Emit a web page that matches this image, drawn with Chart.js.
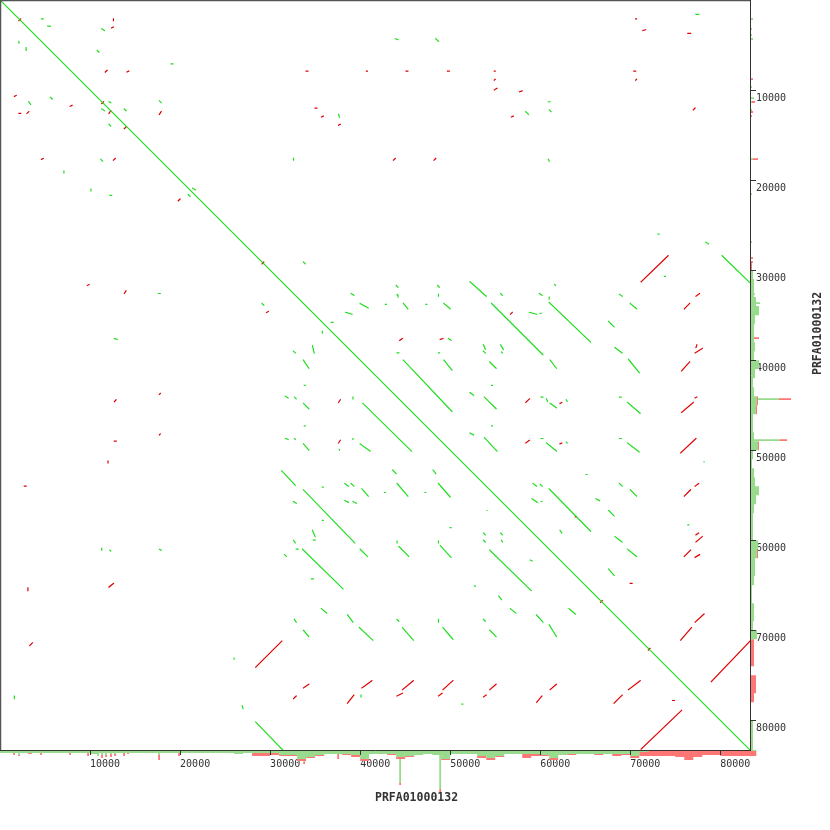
<!DOCTYPE html>
<html>
<head>
<meta charset="utf-8">
<script src="https://cdn.jsdelivr.net/npm/chart.js@4.4.1/dist/chart.umd.min.js"></script>
<style>
html,body{margin:0;padding:0;background:#fff;}
#wrap{width:830px;height:830px;}
</style>
</head>
<body>
<div id="wrap"><canvas id="c" width="830" height="830"></canvas></div>
<script>
// ---------- data ----------
const seqName = 'PRFA01000132';
const seqLength = 83300;
const tickValues = [10000, 20000, 30000, 40000, 50000, 60000, 70000, 80000];

// forward (same-strand) hits: [x1, y1, x2, y2] in bp
const forwardHits = [
[0,0,83300,83300],
[80200,28400,83300,31400],[28400,80200,31400,83300],
[52200,31300,54000,32900],[54600,33700,60300,39400],[61000,33600,65600,38000],
[44800,40000,50200,45700],[40300,44800,45700,50100],
[31300,52300,32800,53900],[33700,54400,39400,60300],[33600,61000,38100,65400],
[54400,61100,59000,65600],[61000,54300,65600,59000],
[68800,32700,69100,32900],[70000,33700,70700,34300],[67600,35700,68200,36300],
[68300,38600,69100,39200],[69800,39900,71000,41400],[68800,44100,69000,44100],
[69700,44700,71100,45900],[68800,48700,69000,48700],[69700,49200,71000,50200],
[78200,51300,78300,51300],[65100,52700,65200,52700],[68800,53700,69100,54000],
[70000,54400,70700,55100],[66200,55400,66600,55600],[67600,56700,68200,57300],
[76400,58300,76500,58300],[68300,59600,69100,60200],[69700,61000,70700,61800],
[67600,63200,68200,63900],[63200,67600,63900,68200],[73800,30700,73900,30700],
[73100,26000,73200,26000],[78400,26900,78700,27100],[77300,1600,77600,1600],
[43900,4300,44200,4400],[48400,4300,48700,4600],[60900,11300,61100,11300],
[61000,12200,61200,12400],[58400,12400,58700,12700],[37600,12700,37700,13000],
[32600,17600,32600,17800],[60900,17700,61000,17900],
[4600,2100,4800,2100],[5300,2900,5600,2900],[2100,4600,2100,4800],[2900,5300,2900,5600],
[11300,3200,11600,3400],[10800,5600,11000,5800],[19000,7100,19200,7100],
[3200,11300,3400,11600],[5600,10800,5800,11000],[12100,11300,12300,11400],
[11300,12100,11600,12300],[13800,12100,14000,12300],[17700,11200,17900,11400],
[12100,13800,12300,14000],[11200,17700,11400,17900],[7100,19000,7100,19200],
[10100,21000,10100,21200],[12200,21700,12400,21700],[21400,20900,21700,21100],
[20900,21600,21100,21800],[17600,32600,17800,32600],[12700,37600,13000,37700],
[11300,60900,11300,61100],[12200,61100,12300,61200],[17700,61000,17900,61100],
[26000,73100,26000,73200],[1600,77300,1600,77600],[26900,78400,27000,78700],
[33700,29100,33900,29300],[44000,31700,44200,31900],[48600,31700,48800,31900],
[61600,31600,61700,31700],[39000,32600,39300,32800],[44100,32700,44200,32900],
[48700,32700,48700,32900],[55600,32600,55800,32800],[59900,32600,60200,32800],
[61000,33000,61000,33200],[29100,33700,29300,33900],[40000,33700,40900,34200],
[42800,33800,42900,33800],[44800,33700,45300,34300],[47300,33800,47400,33800],
[49300,33700,50000,34300],[58800,34700,59600,34900],[60000,34800,60100,34800],
[38400,34700,39100,34900],[36800,35800,37000,35800],[35800,36800,35800,37000],
[49800,37600,50100,37800],[32600,39000,32800,39200],[34700,38400,34900,39200],
[44100,39200,44300,39200],[48700,39200,48800,39200],[53700,38300,53900,38800],
[53700,39000,53900,39200],[55600,38300,55900,38800],[55700,39100,55800,39200],
[33700,40000,34300,40900],[49300,40000,50200,41100],[54400,40200,55100,40900],
[61100,40000,61800,40900],[33800,42800,33900,42800],[54600,42800,54700,42800],
[31700,44000,32000,44200],[32700,44100,32900,44300],[33700,44800,34300,45400],
[39200,44100,39200,44300],[52200,43600,52600,43900],[53800,44100,55100,45400],
[60100,44100,60300,44100],[60700,44300,60800,44600],[61100,44800,61800,45300],
[62900,44400,63000,44600],[33800,47300,33900,47300],[54600,47300,54700,47300],
[31700,48700,32000,48800],[32700,48700,32800,48800],[37700,49900,37700,50000],
[33700,49300,34300,50000],[39200,48700,39200,48800],[40000,49300,41100,50100],
[52200,48100,52600,48300],[53800,48600,55200,50100],[60100,48700,60300,48700],
[60700,49200,61800,50100],[62900,49100,63000,49200],[43600,52200,44000,52600],
[48100,52200,48400,52600],[38300,53700,38700,54000],[39000,53700,39300,54000],
[40200,54300,40900,55100],[35800,54100,35900,54100],[42700,54700,42800,54700],
[44100,53700,45300,55100],[47200,54700,47300,54700],[48700,53700,50000,55200],
[59200,53700,59600,54000],[60000,53800,60200,54000],[38300,55600,38700,55800],
[39200,55700,39600,55900],[32600,55700,32900,55900],[54100,56700,54200,56700],
[59100,55400,59700,55800],[60100,55700,60200,55700],[35800,57800,35900,57800],
[50000,58600,50100,58600],[34700,58900,35000,59600],[62200,58900,62400,59200],
[53700,59200,53900,59400],[55600,59200,55800,59400],[32600,60000,32800,60300],
[34800,60000,35000,60000],[44100,60100,44100,60300],[44300,60700,45400,61800],
[48700,60100,48700,60300],[48900,60600,50100,61900],[53700,60000,53900,60200],
[55700,60000,55800,60200],[32900,61000,33100,61000],[31600,61600,31800,61800],
[40000,61000,40800,61800],[58900,62200,59100,62300],[34600,64300,34800,64300],
[52700,65100,52800,65100],[55400,66200,55700,66600],[35700,67600,36300,68100],
[56700,67600,57300,68100],[32700,68800,32900,69100],[38600,68300,39200,69100],
[44100,68800,44300,69000],[48700,68800,48700,69100],[53700,68800,53900,69000],
[59600,68300,60300,69100],[33700,70000,34300,70700],[39900,69700,41400,71100],
[44700,69700,45900,71100],[49200,69700,50300,71000],[54400,70000,55100,70700],
[61000,69400,61800,70700],[40100,77200,40100,77400],[51300,78200,51400,78200]
];

// reverse-complement hits: [x1, y1, x2, y2] in bp
const reverseHits = [
[71200,31300,74200,28400],[28400,74100,31300,71200],
[71200,83200,75700,78900],[79000,75700,83300,71200],
[77300,32900,77700,32600],[76000,34300,76600,33700],[77300,38600,77400,38300],
[77200,39200,78000,38700],[75700,41200,76600,40200],[75700,45800,77000,44700],
[77200,44200,77400,44100],[75600,50300,77300,48700],[77200,54000,77600,53700],
[76000,55100,76700,54400],[77300,59400,77600,59200],[77300,60200,78000,59600],
[76000,61800,76700,61100],[77200,61900,77700,61600],[70000,64800,70200,64800],
[77200,69100,78200,68200],[75600,71100,76800,69700],[69800,76600,71100,75600],
[68200,78100,69100,77200],[74700,77800,74900,77800],
[32600,77600,32900,77300],[33700,76400,34300,76000],[38600,78100,39300,77200],
[40200,76400,41300,75600],[44100,77300,44700,77000],[44700,76600,45900,75600],
[48700,77300,49100,77000],[49200,76600,50300,75600],[53700,77400,54000,77200],
[54400,76600,55100,76000],[59600,78000,60200,77300],[61100,76600,61800,76000],
[29600,34700,29800,34600],[56700,34900,56900,34700],[44400,37800,44700,37600],
[48900,37700,49200,37600],[37600,44700,37800,44400],[58400,44700,58800,44300],
[62200,44800,62400,44700],[37600,49200,37800,48900],[58400,49200,58800,48900],
[62200,49300,62400,49200],[63900,57400,64000,57400],
[70600,2100,70700,2100],[71400,3400,71700,3300],[76400,3700,76700,3700],
[34000,7900,34200,7900],[40700,7900,40800,7900],[45100,7900,45300,7900],
[49700,7900,49900,7900],[54900,7900,55000,7900],[54900,8900,55000,8800],
[54900,10000,55200,9800],[57700,10200,58000,10100],[70400,7900,70600,7900],
[70600,8900,70700,8800],[56800,13000,57000,12900],[77000,12200,77200,12000],
[35000,12000,35200,12000],[35700,13000,35900,12900],[37600,13900,37800,13800],
[43700,17800,43900,17600],[48200,17800,48400,17600],
[12600,2300,12600,2100],[12400,3100,12600,3000],[11700,8000,11900,7800],
[14100,8000,14300,7900],[1600,10700,1800,10600],[7800,11800,8000,11700],
[2100,12600,2300,12600],[3000,12600,3200,12400],[12100,12600,12300,12300],
[17700,12700,17900,12400],[13800,14300,14000,14100],[4600,17700,4800,17600],
[12600,17800,12800,17600],[19800,22300,20000,22100],
[2100,2300,2300,2100],[11300,11500,11500,11300],[29100,29300,29300,29100],
[66700,66900,66900,66700],[72000,72200,72200,72000],
[9700,31700,9900,31600],[13800,32600,14000,32300],[17700,43800,17800,43700],
[12700,44600,12900,44400],[17700,48300,17800,48200],[12700,49000,12900,49000],
[12000,51400,12000,51200],[2700,54000,2900,54000],[12100,65200,12600,64800],
[3100,65600,3100,65300],[3300,71700,3600,71400]
];

// coverage histograms, 1000-bp bins (hit depth)
const binSize = 1000;
const bottomFwd = [1.5,1.5,1.5,1.5,1.5,1.5,1.5,1.5,1.5,1.5,2,1.5,1.5,1.5,1.5,1.5,1.5,1.5,1.5,1.5,1.5,1.5,1.5,1.5,1.5,1.5,2,1.5,1.5,1.5,1.5,2.5,2.5,4.5,3.5,2.5,2,2,2,2.5,4.5,2,2,2,3.5,3,2.5,2,2.5,4.5,2,2,2,3,4,3,2,2,2,2,2.5,4,2.5,2,2,2,2,2,2,2,3,1,0.5,0.5,0.5,0.5,0.5,0.5,0.5,0.5,0.5,0.5,0.5,0.5];
const bottomRev = [0,0,0,0,0,0,0,0,0,0,0,0,0,0,0,0,0,0,0,0,0,0,0,0,0,0,0,0,1.5,1.5,1,0.5,0.5,1,0.5,0.5,0,0,0.5,1,1,0,0,0.5,1,0.5,0,0,0,0.5,0,0,0,1,1,0.5,0,0,2,1,0.5,1,0,0.5,0,0,0.5,0,1,0.5,1,2,2.5,2.5,2.5,3,4.5,3,2,2,2.5,2.5,2.5,2.5];
const rightFwd = [0,0,0,0,0,0,0,0,0,0,0,0,0,0,0,0,0,0,0,0,0,0,0,0,0,0,0,0,0.5,0.5,1.5,2,2,3,4.5,2.5,2,2,2.5,2,4.5,2.5,1.5,2,3.5,3,1.5,1.5,2,4,1.5,1,2,2.5,4.5,3,2,1.5,1.5,1.5,4,3.5,2.5,2.5,2,1,1,2,2,1.5,3.5,0,0,0,0,0,0,0,0.5,0,1.5,1.5,1.5,1.5];
const rightRev = [0,0,0,0,0,0,0,0,0,0,0,0,0,0,0,0,0,0,0,0,0,0,0,0,0,0,0,0,0,0.5,0,0,0,0,0,0,0,0,0,0,0,0,0,0,0.5,0.5,0,0,0,0.5,0,0,0,0,0,0,0,0,0,0,0,0.5,0,0,0,0,0,0,0,0,0,2,2,2,0.5,3,3,2,0,0,0,0,0,0];
// narrow coverage peaks: [position bp, forward depth, reverse depth]
const peakWidth = 200;
const bottomPeaks = [[1560,1.5,1],[2110,2.5,0.5],[3220,1.5,0.5],[3440,1.5,0.5],[4560,1.5,1],[7780,1.5,1],[9780,1.5,1.5],[10890,3,0],[11330,2.5,1.5],[11780,2.5,1],[12330,2,1.5],[12780,2,1],[13780,1.5,1.5],[14220,1.5,0.5],[17670,2.5,2.5],[19890,1.5,1.5],[33780,6,1],[37560,1.5,3],[44440,16.5,1],[48890,19.5,1.5]];
const rightPeaks = [[2110,1.5,0],[3220,1,0],[3890,1,0],[4330,1.5,0],[5560,0.5,0],[8780,0,1.5],[9670,1,0],[10890,2,0],[11330,1,1.5],[12220,1,0],[12440,0,1.5],[12890,0,1],[13780,0.5,0],[17670,1.5,2.5],[20780,0.5,0],[21560,1,0],[26890,1,0],[28670,0,1.5],[29110,0,1.5],[32670,2.5,0],[33670,5,0],[37560,1.5,3],[44330,14.5,6],[48890,15,3.5],[66330,1,0]];

// ---------- styling ----------
const HIT_GREEN = 'rgb(30,222,30)';
const HIT_RED = 'rgb(225,0,0)';
const COV_GREEN = 'rgb(152,219,140)';
const COV_RED = 'rgb(255,118,118)';
const AXIS = '#333333';

// ---------- build library tables ----------
const GAP = () => ({x: null, y: null});
function hitPoints(list) {
  const pts = [];
  list.forEach(h => { pts.push({x: h[0], y: h[1]}, {x: h[2], y: h[3]}, GAP()); });
  return pts;
}
function binBars(fwd, rev, horizontal, red) {
  const pts = [];
  fwd.forEach((f, i) => {
    const r = rev[i];
    const c = (i + 0.5) * binSize;
    const s = red ? f : 0, e = red ? f + r : f;
    if (e - s <= 0) return;
    if (horizontal) pts.push({x: s, y: c}, {x: e, y: c}, GAP());
    else pts.push({x: c, y: s}, {x: c, y: e}, GAP());
  });
  return pts;
}
function peakBars(peaks, horizontal, red) {
  const pts = [];
  peaks.forEach(p => {
    const s = red ? p[1] : 0, e = red ? p[1] + p[2] : p[1];
    if (e - s <= 0) return;
    if (horizontal) pts.push({x: s, y: p[0]}, {x: e, y: p[0]}, GAP());
    else pts.push({x: p[0], y: s}, {x: p[0], y: e}, GAP());
  });
  return pts;
}
function widthOn(axisId, span) {
  return (ctx) => {
    const s = ctx.chart.scales[axisId];
    if (!s) return 2;
    const w = Math.abs(s.getPixelForValue(span) - s.getPixelForValue(0));
    return isFinite(w) && w > 0 ? w : 2;
  };
}
function histSet(data, color, horizontal, span) {
  return {
    data, borderColor: color, backgroundColor: color,
    borderWidth: widthOn(horizontal ? 'y' : 'x', span),
    stepped: true,
    borderCapStyle: 'butt', borderJoinStyle: 'miter', pointRadius: 0, fill: false, spanGaps: false, clip: false,
    xAxisID: horizontal ? 'xHist' : 'x', yAxisID: horizontal ? 'y' : 'yHist'
  };
}

const datasets = [
  histSet(binBars(bottomFwd, bottomRev, false, false), COV_GREEN, false, binSize),
  histSet(binBars(bottomFwd, bottomRev, false, true), COV_RED, false, binSize),
  histSet(peakBars(bottomPeaks, false, false), COV_GREEN, false, peakWidth),
  histSet(peakBars(bottomPeaks, false, true), COV_RED, false, peakWidth),
  histSet(binBars(rightFwd, rightRev, true, false), COV_GREEN, true, binSize),
  histSet(binBars(rightFwd, rightRev, true, true), COV_RED, true, binSize),
  histSet(peakBars(rightPeaks, true, false), COV_GREEN, true, peakWidth),
  histSet(peakBars(rightPeaks, true, true), COV_RED, true, peakWidth),
  {data: hitPoints(forwardHits), borderColor: HIT_GREEN, borderWidth: 1.2, borderCapStyle: 'square',
   pointRadius: 0, fill: false, spanGaps: false, xAxisID: 'x', yAxisID: 'y'},
  {data: hitPoints(reverseHits), borderColor: HIT_RED, borderWidth: 1.2, borderCapStyle: 'square',
   pointRadius: 0, fill: false, spanGaps: false, xAxisID: 'x', yAxisID: 'y'}
];

const frameAndTitles = {
  id: 'frameAndTitles',
  afterDraw(chart) {
    const {ctx, chartArea: a} = chart;
    ctx.save();
    ctx.strokeStyle = '#555';
    ctx.lineWidth = 1.5;
    ctx.beginPath();
    ctx.moveTo(a.left + 0.5, a.bottom);
    ctx.lineTo(a.left + 0.5, a.top + 0.5);
    ctx.lineTo(a.right, a.top + 0.5);
    ctx.stroke();
    ctx.fillStyle = AXIS;
    ctx.font = 'bold 11.5px "DejaVu Sans Mono"';
    ctx.textAlign = 'left';
    ctx.textBaseline = 'alphabetic';
    const cx = (a.left + a.right) / 2, cy = (a.top + a.bottom) / 2;
    ctx.fillText(seqName, cx, a.bottom + 51);
    ctx.translate(a.right + 71, cy);
    ctx.rotate(-Math.PI / 2);
    ctx.fillText(seqName, 0, 0);
    ctx.restore();
  }
};

const tickFont = {family: 'DejaVu Sans Mono', size: 10};
const setTicks = (s) => { s.ticks = tickValues.map(v => ({value: v})); };

new Chart(document.getElementById('c'), {
  type: 'line',
  data: {datasets},
  plugins: [frameAndTitles],
  options: {
    responsive: false, animation: false, devicePixelRatio: 1, events: [],
    layout: {padding: 0},
    elements: {line: {tension: 0}},
    plugins: {legend: {display: false}, tooltip: {enabled: false}, title: {display: false}},
    scales: {
      x: {
        type: 'linear', position: 'bottom', min: 0, max: seqLength,
        afterBuildTicks: setTicks,
        afterFit: (s) => { s.height = 80; },
        grid: {drawOnChartArea: false, drawTicks: true, tickLength: 5, color: AXIS, tickColor: AXIS, z: 1},
        border: {display: true, color: AXIS, width: 1, z: 1},
        ticks: {align: 'start', padding: 3, maxRotation: 0, minRotation: 0, autoSkip: false,
                color: AXIS, font: tickFont, callback: (v) => String(v)}
      },
      y: {
        type: 'linear', position: 'right', reverse: true, min: 0, max: seqLength,
        afterBuildTicks: setTicks,
        afterFit: (s) => { s.width = 80; },
        grid: {drawOnChartArea: false, drawTicks: true, tickLength: 6, color: AXIS, tickColor: AXIS, z: 1},
        border: {display: true, color: AXIS, width: 1, z: 1},
        ticks: {align: 'start', padding: 0, labelOffset: 3, autoSkip: false,
                color: AXIS, font: tickFont, callback: (v) => String(v)}
      },
      xHist: {type: 'linear', axis: 'x', position: 'bottom', display: false, min: -375, max: 0},
      yHist: {type: 'linear', axis: 'y', position: 'left', display: false, reverse: true, min: -375, max: 0}
    }
  }
});
</script>
</body>
</html>
